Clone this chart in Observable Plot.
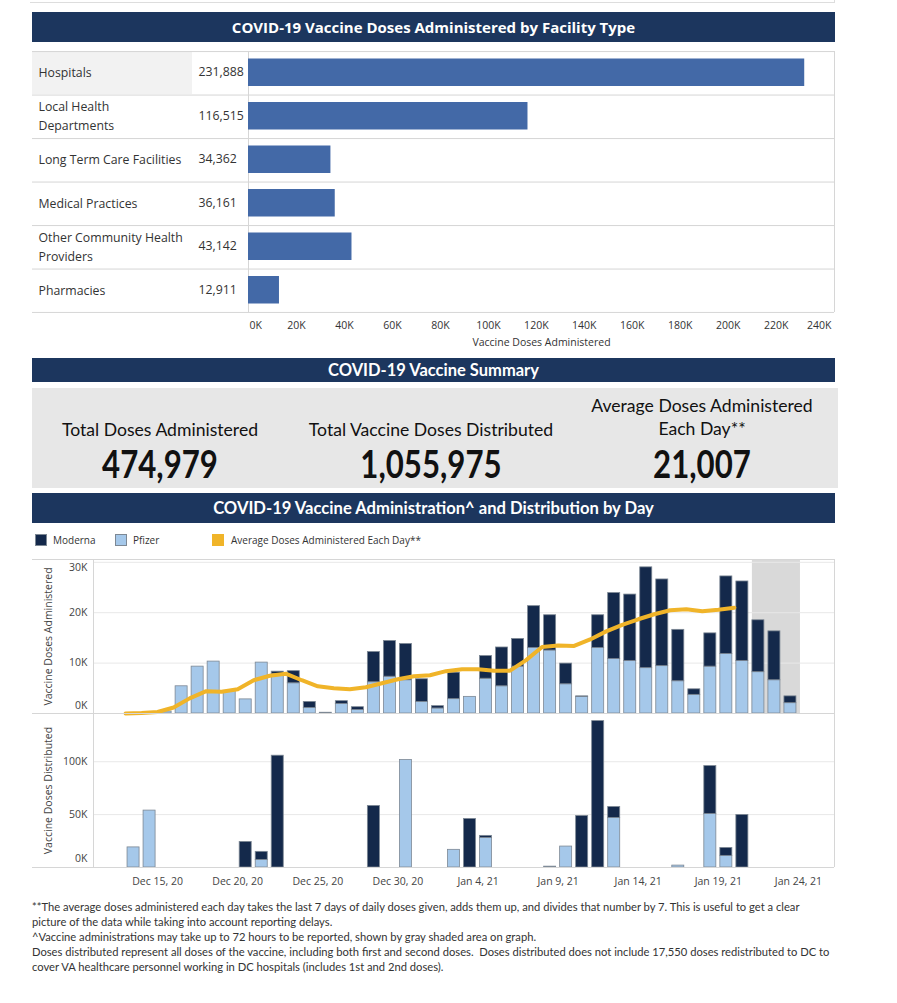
<!DOCTYPE html>
<html><head><meta charset="utf-8">
<script src="https://cdn.jsdelivr.net/npm/d3@7"></script>
<script src="https://cdn.jsdelivr.net/npm/@observablehq/plot@0.6"></script>
<style>
body{margin:0;background:#fff;font-family:"Open Sans",sans-serif;color:#333;}
#page{position:relative;width:897px;height:1003px;overflow:hidden;background:#fff;}
.abs{position:absolute;}
.hdr{position:absolute;left:32px;width:803px;background:#1c365e;color:#fff;font-weight:700;text-align:center;white-space:nowrap;}
.cal{font-family:"Lato",sans-serif;}
.sumlbl{position:absolute;width:300px;text-align:center;font-size:17.6px;color:#111;line-height:23px;}
.sumnum{position:absolute;width:300px;text-align:center;font-size:39px;font-weight:700;color:#111;line-height:40px;transform:scaleX(0.8);transform-origin:50% 50%;}
#legend{position:absolute;left:35px;top:533px;font-size:10px;color:#333;height:14px;}
.lg{position:absolute;top:0;white-space:nowrap;line-height:14px;}
.sw{position:absolute;top:1px;width:12px;height:12px;}
#notes{position:absolute;left:32px;top:899px;font-size:11.2px;line-height:15px;color:#333;white-space:pre;}
svg{position:absolute;left:0;overflow:visible;}
</style></head>
<body><div id="page">
<div class="abs" style="left:30px;top:2px;width:804px;height:1px;background:#ddd"></div>
<div class="abs" style="left:834px;top:0;width:1px;height:3px;background:#ddd"></div>
<div class="hdr" id="h1" style="top:12px;height:30px;line-height:30px;font-size:15px;"></div>
<div class="abs" style="left:32px;top:51px;width:160px;height:43px;background:#f2f2f2"></div>
<div class="hdr cal" id="h2" style="top:358px;height:24px;line-height:24px;font-size:16.5px;"></div>
<div class="abs" style="left:32px;top:388px;width:806px;height:100px;background:#e7e7e7"></div>
<div id="summary"></div>
<div class="hdr cal" id="h3" style="top:493px;height:30px;line-height:30px;font-size:16.6px;"></div>
<div id="legend"></div>
<div id="notes" class="cal"></div>
</div>
<script>
// ---------- Data ----------
const titles = [
  "COVID-19 Vaccine Doses Administered by Facility Type",
  "COVID-19 Vaccine Summary",
  "COVID-19 Vaccine Administration^ and Distribution by Day"
];

const facilities = ["Hospitals","Local Health Departments","Long Term Care Facilities","Medical Practices","Other Community Health Providers","Pharmacies"];
const facilityLabels = ["Hospitals","Local Health\nDepartments","Long Term Care Facilities","Medical Practices","Other Community Health\nProviders","Pharmacies"];
const facilityDoses = [231888,116515,34362,36161,43142,12911];
const facilityTicks = [0,20000,40000,60000,80000,100000,120000,140000,160000,180000,200000,220000,240000];
const facilityXMax = 244300;

const summaryLabels = ["Total Doses Administered","Total Vaccine Doses Distributed","Average Doses Administered\nEach Day**"];
const summaryValues = [474979,1055975,21007];

const makers = ["Moderna","Pfizer"];
const makerColors = ["#14294b","#a5c8ea"];
const avgLabel = "Average Doses Administered Each Day**";
const avgColor = "#f0b429";

const adminDays = ["2020-12-15","2020-12-16","2020-12-17","2020-12-18","2020-12-19","2020-12-20","2020-12-21","2020-12-22","2020-12-23","2020-12-24",
  "2020-12-25","2020-12-26","2020-12-27","2020-12-28","2020-12-29","2020-12-30","2020-12-31","2021-01-01","2021-01-02","2021-01-03",
  "2021-01-04","2021-01-05","2021-01-06","2021-01-07","2021-01-08","2021-01-09","2021-01-10","2021-01-11","2021-01-12","2021-01-13",
  "2021-01-14","2021-01-15","2021-01-16","2021-01-17","2021-01-18","2021-01-19","2021-01-20","2021-01-21","2021-01-22","2021-01-23"];
const pfizerAdmin = [400,5400,9300,10300,4500,2800,10100,7800,6000,1100,
  150,1900,700,6200,7300,6600,2300,1000,2850,3300,
  6900,5400,9300,13000,12500,5800,3300,13000,10800,10400,
  9000,9400,6400,3700,9300,11800,10400,8200,6600,2050];
const modernaAdmin = [0,0,0,0,0,0,0,500,2400,1200,
  0,550,550,6000,7100,7200,4500,460,5250,0,
  4500,7700,5500,8300,7000,4100,100,6500,13100,13200,
  20000,17200,10200,1100,6600,15400,15800,10300,9700,1350];

const avgDays = ["2020-12-13","2020-12-14","2020-12-15","2020-12-16","2020-12-17","2020-12-18","2020-12-19","2020-12-20","2020-12-21","2020-12-22",
  "2020-12-23","2020-12-24","2020-12-25","2020-12-26","2020-12-27","2020-12-28","2020-12-29","2020-12-30","2020-12-31","2021-01-01",
  "2021-01-02","2021-01-03","2021-01-04","2021-01-05","2021-01-06","2021-01-07","2021-01-08","2021-01-09","2021-01-10","2021-01-11",
  "2021-01-12","2021-01-13","2021-01-14","2021-01-15","2021-01-16","2021-01-17","2021-01-18","2021-01-19","2021-01-20"];
const avgDoses = [0,100,300,1200,3000,4400,4300,4800,6600,7500,
  7900,6600,5400,5000,4800,5200,6000,6800,7400,7600,
  8400,8800,8800,8500,8500,10600,13200,13500,13400,14700,
  16300,17600,18700,19700,20500,20700,20300,20600,21000];

const distDays = ["2020-12-13","2020-12-14","2020-12-20","2020-12-21","2020-12-22","2020-12-28","2020-12-30","2021-01-02","2021-01-03","2021-01-04",
  "2021-01-08","2021-01-09","2021-01-10","2021-01-11","2021-01-12","2021-01-16","2021-01-18","2021-01-19","2021-01-20"];
const pfizerDist = [19000,53800,0,7200,0,0,101600,16700,0,28000,
  800,19800,0,0,46900,1800,50600,11000,0];
const modernaDist = [0,0,24200,7600,105700,58200,0,0,45900,1900,
  0,0,48700,138400,10300,0,45300,7500,49700];

const reportingLag = [{start:"2021-01-21", end:"2021-01-24"}];
const dateTicks = ["2020-12-15","2020-12-20","2020-12-25","2020-12-30","2021-01-04","2021-01-09","2021-01-14","2021-01-19","2021-01-24"];
const xDomain = ["2020-12-11T00:00Z","2021-01-26T06:00Z"];
const adminYMax = 30560, adminTicks = [0,10000,20000,30000];
const distYMax = 145600, distTicks = [0,50000,100000];

const notes = [
  "**The average doses administered each day takes the last 7 days of daily doses given, adds them up, and divides that number by 7. This is useful to get a clear",
  "picture of the data while taking into account reporting delays.",
  "^Vaccine administrations may take up to 72 hours to be reported, shown by gray shaded area on graph.",
  "Doses distributed represent all doses of the vaccine, including both first and second doses.  Doses distributed does not include 17,550 doses redistributed to DC to",
  "cover VA healthcare personnel working in DC hospitals (includes 1st and 2nd doses)."
];

// ---------- HTML parts ----------
const page = document.getElementById("page");
document.getElementById("h1").textContent = titles[0];
document.getElementById("h2").textContent = titles[1];
document.getElementById("h3").textContent = titles[2];

const sumCenters = [160, 431, 702];
const sumDiv = document.getElementById("summary");
summaryLabels.forEach((lbl, i) => {
  const lines = lbl.split("\n");
  const l = document.createElement("div");
  l.className = "sumlbl cal";
  l.style.left = (sumCenters[i] - 150) + "px";
  l.style.top = (lines.length > 1 ? 394 : 418) + "px";
  l.innerHTML = lines.join("<br>");
  sumDiv.appendChild(l);
  const n = document.createElement("div");
  n.className = "sumnum cal";
  n.style.left = (sumCenters[i] - 150) + "px";
  n.style.top = "443px";
  n.textContent = d3.format(",")(summaryValues[i]);
  sumDiv.appendChild(n);
});

const legend = document.getElementById("legend");
const legendItems = [
  {label: makers[0], color: makerColors[0], x: 0, tx: 18},
  {label: makers[1], color: makerColors[1], x: 80, tx: 98},
  {label: avgLabel, color: avgColor, x: 177, tx: 196}
];
legendItems.forEach(it => {
  const s = document.createElement("div");
  s.className = "sw"; s.style.left = it.x + "px"; s.style.background = it.color;
  if (it.label !== avgLabel) s.style.boxShadow = "inset 0 0 0 1px #7d8894";
  legend.appendChild(s);
  const t = document.createElement("div");
  t.className = "lg"; t.style.left = it.tx + "px"; t.textContent = it.label;
  legend.appendChild(t);
});

document.getElementById("notes").textContent = notes.join("\n");

// ---------- Facility bar chart ----------
const facilityTable = facilities.map((f, i) => ({facility: f, label: facilityLabels[i], doses: facilityDoses[i]}));
const kFmt = d => (d / 1000) + "K";
const gridStroke = "#d6d6d6";

const fac = Plot.plot({
  width: 897, height: 310,
  marginLeft: 248, marginRight: 63, marginTop: 6, marginBottom: 43,
  style: {fontFamily: "Open Sans", fontSize: "10.5px", color: "#333", background: "transparent"},
  x: {domain: [0, facilityXMax], axis: null},
  y: {domain: facilities, padding: 0, round: false, axis: null},
  marks: [
    Plot.ruleY(facilityTable, {y: "facility", dy: -21.7, insetLeft: -216, stroke: gridStroke}),
    Plot.ruleY(facilityTable.slice(-1), {y: "facility", dy: 21.7, insetLeft: -216, stroke: gridStroke}),
    Plot.ruleX([0, facilityXMax], {stroke: gridStroke}),
    Plot.barX(facilityTable, {y: "facility", x: "doses", fill: "#4369a7", insetTop: 7.5, insetBottom: 8.5}),
    Plot.text(facilityTable, {y: "facility", text: "label", frameAnchor: "left", textAnchor: "start", dx: -210, dy: -2, fontSize: 12.3, lineHeight: 1.55, fill: "#333"}),
    Plot.text(facilityTable, {y: "facility", text: d => d3.format(",")(d.doses), frameAnchor: "left", textAnchor: "start", dx: -50, dy: -1, fontSize: 12.3, fill: "#333"}),
    Plot.axisX(facilityTicks.slice(1, -1), {tickSize: 0, tickPadding: 9, tickFormat: kFmt, label: null}),
    Plot.axisX([0], {tickSize: 0, tickPadding: 9, tickFormat: kFmt, textAnchor: "start", dx: 1, label: null}),
    Plot.axisX([240000], {tickSize: 0, tickPadding: 9, tickFormat: kFmt, dx: -5, label: "Vaccine Doses Administered", labelArrow: false, labelAnchor: "center", labelOffset: 33})
  ]
});
fac.style.top = "45px";
page.appendChild(fac);

// ---------- Daily charts ----------
const admin = [];
adminDays.forEach((d, i) => {
  admin.push({date: new Date(d), maker: "Pfizer", doses: pfizerAdmin[i]});
  admin.push({date: new Date(d), maker: "Moderna", doses: modernaAdmin[i]});
});
const avg = avgDays.map((d, i) => ({date: new Date(d), doses: avgDoses[i]}));
const dist = [];
distDays.forEach((d, i) => {
  dist.push({date: new Date(d), maker: "Pfizer", doses: pfizerDist[i]});
  dist.push({date: new Date(d), maker: "Moderna", doses: modernaDist[i]});
});
const lag = reportingLag.map(r => ({start: new Date(r.start), end: new Date(r.end)}));
const xdom = xDomain.map(d => new Date(d));
const barStroke = "#7d8894";
const commonStyle = {fontFamily: "Open Sans", fontSize: "10.5px", color: "#444", background: "transparent"};

const adminPlot = Plot.plot({
  width: 897, height: 160,
  marginLeft: 93, marginRight: 63, marginTop: 4, marginBottom: 2,
  style: commonStyle,
  x: {type: "utc", domain: xdom, axis: null},
  y: {domain: [0, adminYMax], axis: null},
  color: {domain: makers, range: makerColors},
  marks: [
    Plot.rect(lag, {x1: "start", x2: "end", fill: "#d9d9d9", insetLeft: 2, insetRight: -2}),
    Plot.ruleY(adminTicks.slice(1), {stroke: "#e8e8e8"}),
    Plot.rectY(admin.filter(d => d.doses > 0), {x: "date", interval: d3.utcDay, y: "doses", fill: "maker", stroke: barStroke, strokeWidth: 0.8, insetLeft: 2, insetRight: 2}),
    Plot.line(avg, {x: "date", y: "doses", stroke: avgColor, strokeWidth: 4, strokeLinejoin: "round", strokeLinecap: "round"}),
    Plot.ruleY([0, adminYMax], {stroke: gridStroke, insetLeft: -61}),
    Plot.ruleX(xdom, {stroke: gridStroke}),
    Plot.axisY(adminTicks.slice(1, -1), {tickSize: 0, tickPadding: 6, tickFormat: kFmt, label: "Vaccine Doses Administered", labelArrow: false, labelAnchor: "center", labelOffset: 49}),
    Plot.axisY([0], {tickSize: 0, tickPadding: 6, tickFormat: kFmt, dy: -8, label: null}),
    Plot.axisY([30000], {tickSize: 0, tickPadding: 6, tickFormat: kFmt, dy: 5, label: null})
  ]
});
adminPlot.style.top = "555px";
page.appendChild(adminPlot);

const distPlot = Plot.plot({
  width: 897, height: 185,
  marginLeft: 93, marginRight: 63, marginTop: 0, marginBottom: 31,
  style: commonStyle,
  x: {type: "utc", domain: xdom, axis: null},
  y: {domain: [0, distYMax], axis: null},
  color: {domain: makers, range: makerColors},
  marks: [
    Plot.ruleY(distTicks.slice(1), {stroke: "#e8e8e8"}),
    Plot.rectY(dist.filter(d => d.doses > 0), {x: "date", interval: d3.utcDay, y: "doses", fill: "maker", stroke: barStroke, strokeWidth: 0.8, insetLeft: 2, insetRight: 2}),
    Plot.ruleY([0], {stroke: gridStroke, insetLeft: -61}),
    Plot.ruleX(xdom, {stroke: gridStroke}),
    Plot.axisX(dateTicks.map(d => new Date(d)), {tickSize: 0, tickPadding: 10, tickFormat: d3.utcFormat("%b %-d, %y"), label: null}),
    Plot.axisY(distTicks.slice(1), {tickSize: 0, tickPadding: 6, tickFormat: kFmt, label: "Vaccine Doses Distributed", labelArrow: false, labelAnchor: "center", labelOffset: 49}),
    Plot.axisY([0], {tickSize: 0, tickPadding: 6, tickFormat: kFmt, dy: -9, label: null})
  ]
});
distPlot.style.top = "713px";
page.appendChild(distPlot);
</script>
</body></html>
